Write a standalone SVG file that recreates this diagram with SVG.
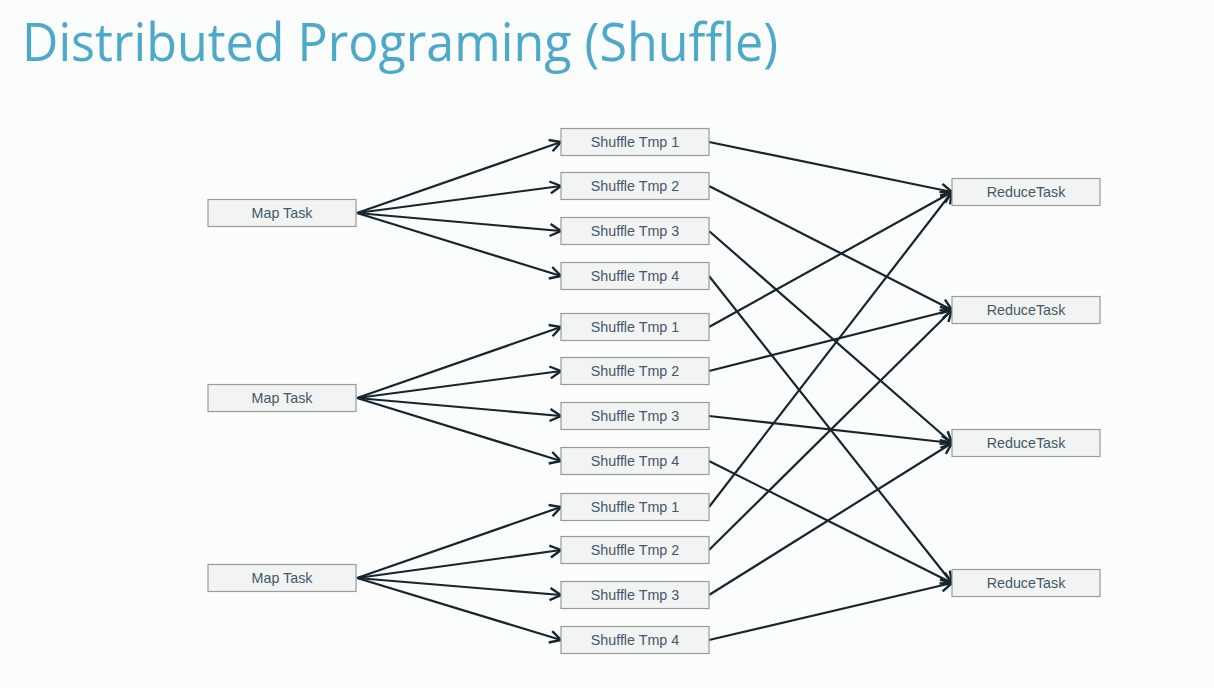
<svg xmlns="http://www.w3.org/2000/svg" width="1214" height="688" viewBox="0 0 1214 688">
  <defs>
    <style>
      .box { fill: #f2f3f3; stroke: #9a9c9c; stroke-width: 1.2; }
      .lbl { font-family: "Liberation Sans", Arial, sans-serif; font-size: 14.3px; fill: #42586a; text-anchor: middle; dominant-baseline: central; }
      .edge { stroke: #16262e; stroke-width: 2.2; fill: none; marker-end: url(#arrow); }
      .title { font-family: "Open Sans", "Noto Sans", sans-serif; font-size: 53px; fill: #4ca9c9; }
    </style>
    <marker id="arrow" markerUnits="userSpaceOnUse" markerWidth="16" markerHeight="16" viewBox="0 0 16 16" refX="14" refY="8" orient="auto">
      <path d="M3,2 L14,8 L3,14" fill="none" stroke="#16262e" stroke-width="2.4" stroke-linejoin="miter"/>
    </marker>
  </defs>

  <rect width="1214" height="688" fill="#fbfcfc"/>

  <text class="title" x="22" y="61" textLength="756" lengthAdjust="spacingAndGlyphs">Distributed Programing (Shuffle)</text>

  <!-- connectors -->
  <g id="connectors">
    <!-- map 1 -> shuffle temps -->
    <line class="edge" x1="357" y1="213" x2="561" y2="142"/>
    <line class="edge" x1="357" y1="213" x2="561" y2="186"/>
    <line class="edge" x1="357" y1="213" x2="561" y2="231"/>
    <line class="edge" x1="357" y1="213" x2="561" y2="276"/>
    <!-- map 2 -> shuffle temps -->
    <line class="edge" x1="357" y1="398" x2="561" y2="327"/>
    <line class="edge" x1="357" y1="398" x2="561" y2="371"/>
    <line class="edge" x1="357" y1="398" x2="561" y2="416"/>
    <line class="edge" x1="357" y1="398" x2="561" y2="461"/>
    <!-- map 3 -> shuffle temps -->
    <line class="edge" x1="357" y1="578" x2="561" y2="507"/>
    <line class="edge" x1="357" y1="578" x2="561" y2="550"/>
    <line class="edge" x1="357" y1="578" x2="561" y2="595"/>
    <line class="edge" x1="357" y1="578" x2="561" y2="640"/>
    <!-- shuffle temps -> reduce tasks -->
    <line class="edge" x1="709" y1="142" x2="952" y2="192"/>
    <line class="edge" x1="709" y1="186" x2="952" y2="310"/>
    <line class="edge" x1="709" y1="231" x2="952" y2="443"/>
    <line class="edge" x1="709" y1="276" x2="952" y2="583"/>
    <line class="edge" x1="709" y1="327" x2="952" y2="192"/>
    <line class="edge" x1="709" y1="371" x2="952" y2="310"/>
    <line class="edge" x1="709" y1="416" x2="952" y2="443"/>
    <line class="edge" x1="709" y1="461" x2="952" y2="583"/>
    <line class="edge" x1="709" y1="507" x2="952" y2="192"/>
    <line class="edge" x1="709" y1="550" x2="952" y2="310"/>
    <line class="edge" x1="709" y1="595" x2="952" y2="443"/>
    <line class="edge" x1="709" y1="640" x2="952" y2="583"/>
  </g>

  <!-- map tasks -->
  <g id="map1"><rect class="box" x="208" y="199.5" width="148" height="27"/><text class="lbl" x="282" y="213">Map Task</text></g>
  <g id="map2"><rect class="box" x="208" y="384.5" width="148" height="27"/><text class="lbl" x="282" y="398">Map Task</text></g>
  <g id="map3"><rect class="box" x="208" y="564.5" width="148" height="27"/><text class="lbl" x="282" y="578">Map Task</text></g>

  <!-- shuffle temp files -->
  <g id="s1-1"><rect class="box" x="561" y="128.5" width="148" height="27"/><text class="lbl" x="635" y="142">Shuffle Tmp 1</text></g>
  <g id="s1-2"><rect class="box" x="561" y="172.5" width="148" height="27"/><text class="lbl" x="635" y="186">Shuffle Tmp 2</text></g>
  <g id="s1-3"><rect class="box" x="561" y="217.5" width="148" height="27"/><text class="lbl" x="635" y="231">Shuffle Tmp 3</text></g>
  <g id="s1-4"><rect class="box" x="561" y="262.5" width="148" height="27"/><text class="lbl" x="635" y="276">Shuffle Tmp 4</text></g>
  <g id="s2-1"><rect class="box" x="561" y="313.5" width="148" height="27"/><text class="lbl" x="635" y="327">Shuffle Tmp 1</text></g>
  <g id="s2-2"><rect class="box" x="561" y="357.5" width="148" height="27"/><text class="lbl" x="635" y="371">Shuffle Tmp 2</text></g>
  <g id="s2-3"><rect class="box" x="561" y="402.5" width="148" height="27"/><text class="lbl" x="635" y="416">Shuffle Tmp 3</text></g>
  <g id="s2-4"><rect class="box" x="561" y="447.5" width="148" height="27"/><text class="lbl" x="635" y="461">Shuffle Tmp 4</text></g>
  <g id="s3-1"><rect class="box" x="561" y="493.5" width="148" height="27"/><text class="lbl" x="635" y="507">Shuffle Tmp 1</text></g>
  <g id="s3-2"><rect class="box" x="561" y="536.5" width="148" height="27"/><text class="lbl" x="635" y="550">Shuffle Tmp 2</text></g>
  <g id="s3-3"><rect class="box" x="561" y="581.5" width="148" height="27"/><text class="lbl" x="635" y="595">Shuffle Tmp 3</text></g>
  <g id="s3-4"><rect class="box" x="561" y="626.5" width="148" height="27"/><text class="lbl" x="635" y="640">Shuffle Tmp 4</text></g>

  <!-- reduce tasks -->
  <g id="reduce1"><rect class="box" x="952" y="178.5" width="148" height="27"/><text class="lbl" x="1026" y="192">ReduceTask</text></g>
  <g id="reduce2"><rect class="box" x="952" y="296.5" width="148" height="27"/><text class="lbl" x="1026" y="310">ReduceTask</text></g>
  <g id="reduce3"><rect class="box" x="952" y="429.5" width="148" height="27"/><text class="lbl" x="1026" y="443">ReduceTask</text></g>
  <g id="reduce4"><rect class="box" x="952" y="569.5" width="148" height="27"/><text class="lbl" x="1026" y="583">ReduceTask</text></g>
</svg>
